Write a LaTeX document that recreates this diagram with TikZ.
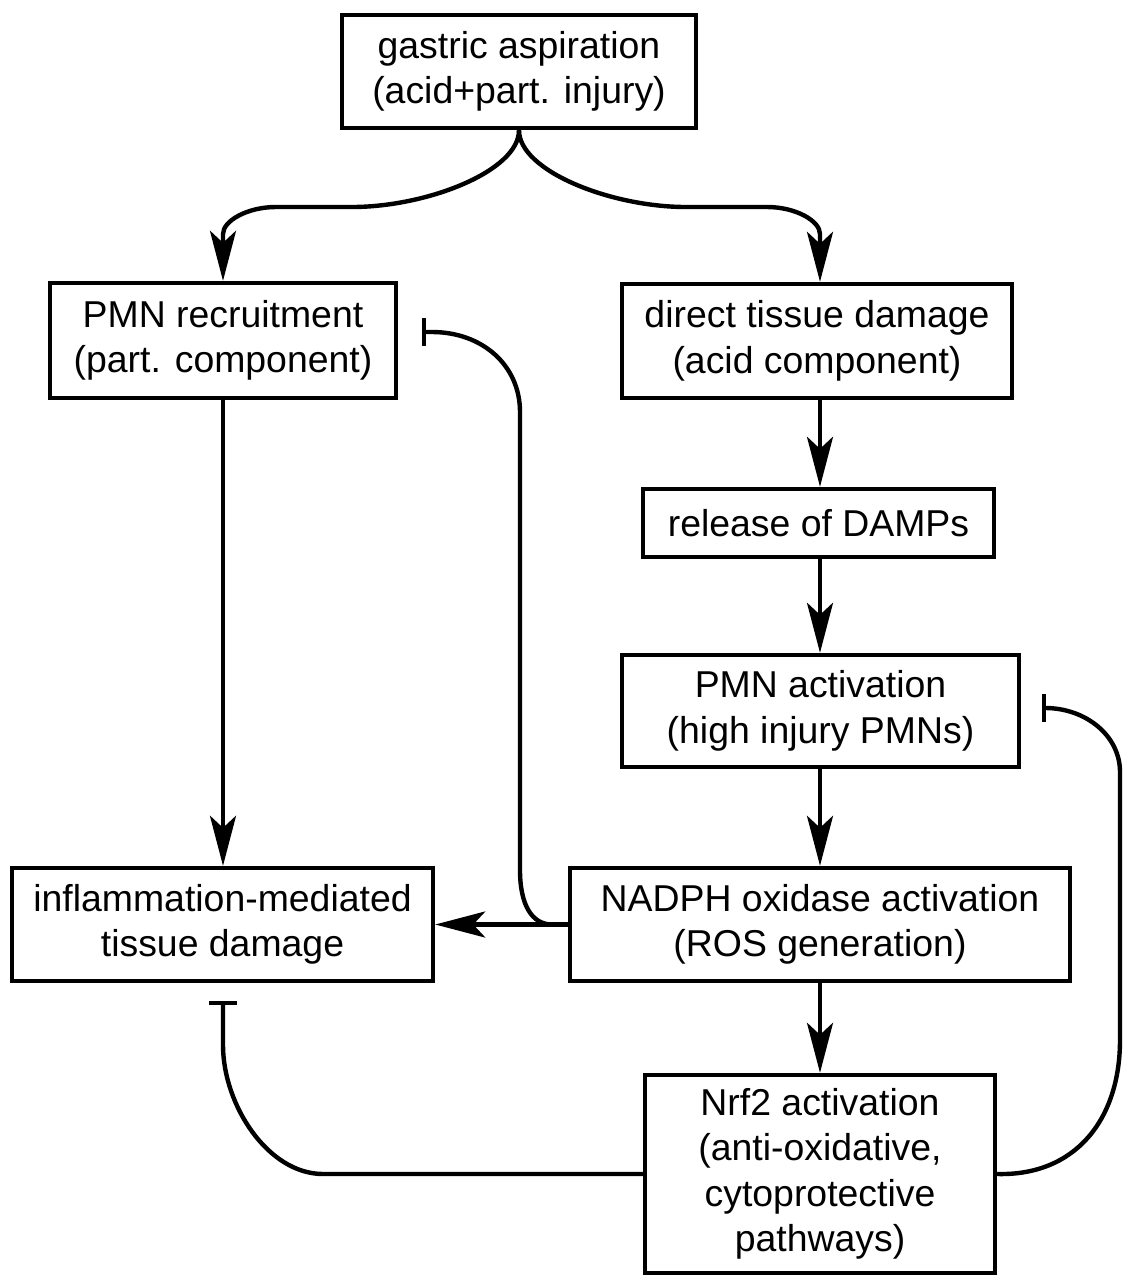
\documentclass[tikz,border=0pt]{standalone}
\usepackage{fontspec}
\setmainfont{Liberation Sans}
\usetikzlibrary{arrows.meta}
\begin{document}
\begin{tikzpicture}[x=0.5pt,y=-0.5pt,
  box/.style={draw, line width=2.2pt, inner sep=0pt, align=center,
    font=\fontsize{18.7}{22.7}\selectfont},
  arr/.style={line width=2.2pt, -{Stealth[length=25pt,width=13pt,inset=6pt]}},
  inh/.style={line width=2.2pt, -{Bar[width=14pt]}}]
\useasboundingbox (0,0) rectangle (1124,1276);
\node[box, minimum width=177pt, minimum height=56.5pt] (top) at (519,71.5)
  {gastric aspiration\\(acid+part. injury)};
\node[box, minimum width=173pt, minimum height=57.5pt] (rec) at (223,340.5)
  {PMN recruitment\\(part. component)};
\node[box, minimum width=195pt, minimum height=57pt] (direct) at (817,341)
  {direct tissue damage\\(acid component)};
\node[box, minimum width=175.5pt, minimum height=34pt] (damps) at (818.5,523)
  {release of DAMPs};
\node[box, minimum width=198.5pt, minimum height=56pt] (act) at (820.5,711)
  {PMN activation\\(high injury PMNs)};
\node[box, minimum width=250pt, minimum height=56.5pt] (nadph) at (820,924.5)
  {NADPH oxidase activation\\(ROS generation)};
\node[box, minimum width=210.5pt, minimum height=56.5pt] (infl) at (222.5,924.5)
  {inflammation-mediated\\tissue damage};
\node[box, minimum width=175pt, minimum height=99pt] (nrf2) at (820,1174)
  {Nrf2 activation\\(anti-oxidative,\\cytoprotective\\pathways)};
\coordinate (inhL) at (422,332);
\coordinate (inhR) at (1042,708);
\coordinate (inhB) at (223,1001);
% fork from top
\draw[arr] (top.south) .. controls (519,171) and (427,207) .. (352,207)
  -- (276,207) .. controls (247,207) and (223,221) .. (223,234) -- (rec.north);
\draw[arr] (top.south) .. controls (519,171) and (611,207) .. (686,207)
  -- (767,207) .. controls (796,207) and (820,221) .. (820,234) -- (direct.north -| nadph.north);
% vertical chain
\draw[arr] (rec.south) -- (rec.south |- infl.north);
\draw[arr] (direct.south -| nadph.north) -- (damps.north -| nadph.north);
\draw[arr] (damps.south -| nadph.north) -- (act.north -| nadph.north);
\draw[arr] (act.south -| nadph.north) -- (nadph.north);
\draw[arr] (nadph.south) -- (nrf2.north);
\draw[arr] (nadph.west) -- (infl.east);
% inhibitions
\draw[inh] (nadph.west) -- (552,924.5) .. controls (532,924.5) and (520,905) .. (520,870)
  -- (520,412) .. controls (520,365) and (482,332) .. (432,332) -- (inhL);
\draw[inh] (nrf2.east) .. controls (1075,1176) and (1120,1120) .. (1120,1040)
  -- (1120,772) .. controls (1120,735) and (1085,708) .. (inhR);
\draw[inh] (nrf2.west) -- (323,1174) .. controls (268,1174) and (223,1105) .. (223,1045)
  -- (inhB);
\end{tikzpicture}
\end{document}
